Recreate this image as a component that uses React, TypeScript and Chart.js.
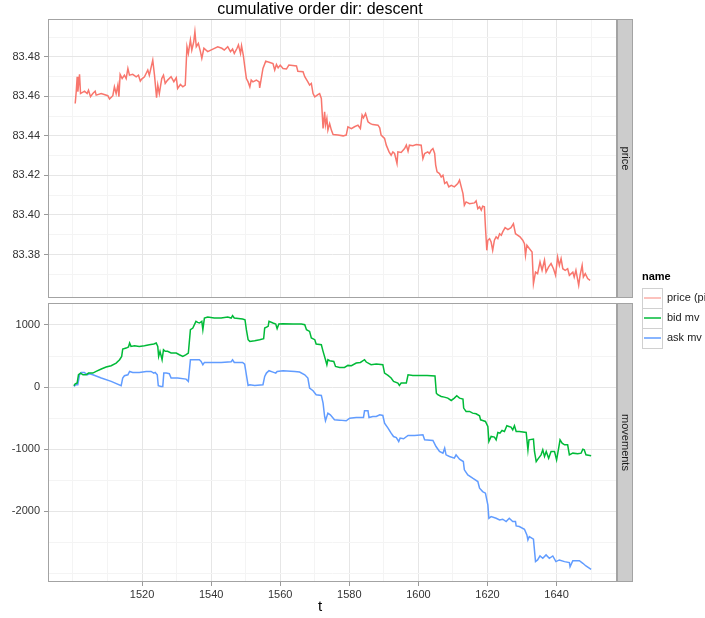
import React, { useEffect, useRef } from 'react';
import { Chart, registerables } from 'chart.js';
Chart.register(...registerables);

// ---------- data ----------
const priceT = [1500.65,1500.94,1501.22,1501.42,1501.9,1502.19,1503.35,1504.1,1504.5,1505.08,1505.75,1506.43,1506.72,1508.17,1510.1,1510.58,1511.54,1512.0,1512.5,1513.0,1513.3,1513.66,1514.24,1514.9,1515.4,1515.9,1516.36,1517.3,1518.3,1518.96,1519.5,1519.9,1520.7,1521.66,1522.1,1523.1,1523.6,1524.2,1524.55,1525.0,1525.7,1526.2,1526.7,1527.4,1528.4,1529.2,1529.9,1530.3,1531.1,1531.8,1532.5,1533.0,1533.4,1534.0,1534.4,1534.96,1535.3,1535.7,1536.3,1536.9,1537.3,1537.9,1539.0,1540.5,1541.9,1543.1,1543.8,1544.8,1545.6,1546.2,1546.7,1547.5,1547.9,1548.5,1548.8,1549.3,1549.8,1550.2,1550.7,1551.2,1551.6,1552.1,1553.1,1553.9,1554.05,1554.5,1555.0,1555.8,1557.0,1557.9,1558.4,1558.9,1559.4,1560.0,1560.8,1561.8,1562.5,1564.7,1565.1,1566.6,1567.1,1568.0,1568.5,1569.0,1569.5,1570.0,1570.9,1571.4,1571.9,1572.4,1572.85,1573.1,1573.5,1573.8,1574.3,1574.8,1575.3,1576.7,1578.2,1579.1,1579.6,1580.6,1581.5,1582.5,1583.2,1583.7,1584.1,1584.7,1585.4,1586.1,1586.8,1588.3,1588.8,1589.2,1590.2,1590.7,1591.5,1592.1,1592.6,1593.1,1593.8,1594.06,1595.0,1596.0,1596.5,1597.0,1597.4,1598.4,1599.4,1600.8,1601.3,1601.8,1602.7,1603.2,1603.7,1604.2,1604.7,1605.0,1605.4,1606.1,1606.6,1607.1,1607.6,1608.2,1608.8,1609.5,1610.4,1611.4,1611.9,1612.4,1612.9,1613.3,1613.8,1614.8,1616.2,1616.7,1617.2,1617.7,1618.2,1618.6,1619.1,1619.4,1619.8,1620.1,1620.6,1621.05,1621.5,1622.0,1622.5,1623.0,1623.5,1624.0,1624.4,1625.1,1625.9,1626.8,1627.5,1628.1,1628.8,1629.4,1630.2,1630.7,1631.0,1631.4,1632.1,1632.9,1633.3,1633.9,1634.5,1635.2,1635.8,1636.5,1636.95,1637.7,1638.4,1639.1,1639.7,1640.3,1640.8,1641.3,1641.8,1642.5,1643.2,1643.7,1644.7,1645.1,1645.6,1646.4,1646.8,1647.4,1647.75,1648.3,1649.0,1649.7];
const priceV = [83.4564,83.4623,83.4699,83.4623,83.4711,83.4614,83.4626,83.4614,83.4631,83.4598,83.4614,83.4626,83.4606,83.4614,83.4603,83.4586,83.4603,83.4648,83.4614,83.4657,83.4598,83.4711,83.4690,83.4707,83.4690,83.4741,83.4707,83.4711,83.4699,83.4707,83.4677,83.4687,83.4699,83.4733,83.4707,83.4783,83.4707,83.4593,83.4657,83.4614,83.4690,83.4707,83.4665,83.4682,83.4699,83.4674,83.4694,83.4640,83.4660,83.4648,83.4657,83.4851,83.4817,83.4885,83.4834,83.4876,83.4927,83.4851,83.4868,83.4826,83.4792,83.4843,83.4826,83.4839,83.4851,83.4843,83.4834,83.4851,83.4826,83.4839,83.4817,83.4843,83.4860,83.4817,83.4856,83.4809,83.4741,83.4690,83.4673,83.4648,83.4682,83.4673,83.4682,83.4673,83.4643,83.4690,83.4741,83.4778,83.4771,83.4766,83.4733,83.4761,83.4744,83.4758,83.4741,83.4738,83.4758,83.4754,83.4727,83.4724,83.4699,83.4673,83.4657,83.4665,83.4614,83.4597,83.4609,83.4614,83.4589,83.4437,83.4522,83.4454,83.4488,83.4429,83.4462,83.4429,83.4407,83.4404,83.4400,83.4404,83.4446,83.4437,83.4446,83.4454,83.4437,83.4505,83.4491,83.4513,83.4471,83.4462,83.4457,83.4454,83.4441,83.4404,83.4387,83.4353,83.4319,83.4302,83.4319,83.4311,83.4260,83.4319,83.4316,83.4336,83.4353,83.4322,83.4353,83.4350,83.4356,83.4353,83.4285,83.4311,83.4319,83.4311,83.4328,83.4336,83.4311,83.4252,83.4218,83.4209,83.4192,83.4201,83.4159,83.4167,83.4142,83.4150,83.4142,83.4159,83.4176,83.4142,83.4108,83.4049,83.4066,83.4057,83.4061,83.4071,83.4032,83.4041,83.4024,83.4044,83.4041,83.3939,83.3821,83.3872,83.3880,83.3863,83.3821,83.3872,83.3889,83.3880,83.3905,83.3897,83.3914,83.3936,83.3926,83.3936,83.3956,83.3905,83.3897,83.3889,83.3872,83.3855,83.3796,83.3847,83.3830,83.3813,83.3652,83.3711,83.3703,83.3762,83.3720,83.3771,83.3711,83.3737,83.3754,83.3728,83.3695,83.3787,83.3745,83.3779,83.3728,83.3720,83.3728,83.3695,83.3711,83.3686,83.3720,83.3644,83.3695,83.3745,83.3686,83.3703,83.3678,83.3669];

const bidT = [1500.26,1500.65,1501.2,1501.6,1502.2,1502.9,1503.8,1504.5,1505.75,1506.7,1508.2,1509.6,1511.06,1512.5,1513.5,1514.1,1514.4,1515.4,1516.07,1516.4,1516.8,1517.8,1519.2,1520.7,1522.1,1523.4,1524.1,1524.55,1524.8,1525.2,1525.8,1526.2,1526.7,1527.4,1528.4,1529.9,1530.8,1531.8,1532.75,1533.4,1534.0,1534.7,1535.6,1536.1,1536.6,1537.3,1537.6,1538.05,1539.0,1540.9,1542.9,1544.8,1545.8,1546.2,1546.7,1549.1,1549.8,1550.2,1550.7,1551.2,1552.6,1554.05,1555.2,1555.5,1556.5,1556.75,1557.9,1558.7,1559.1,1559.6,1560.8,1563.7,1566.1,1567.1,1567.6,1568.5,1569.0,1570.0,1570.4,1571.9,1572.4,1573.1,1573.5,1573.8,1574.3,1575.5,1576.0,1577.2,1578.6,1579.6,1580.6,1582.0,1583.2,1584.4,1584.9,1586.3,1587.8,1589.7,1590.2,1591.2,1592.1,1592.8,1594.06,1594.5,1595.0,1596.5,1597.0,1598.4,1600.3,1602.5,1604.8,1605.2,1605.6,1606.6,1607.5,1608.5,1609.5,1610.4,1611.1,1611.9,1612.9,1613.1,1613.8,1614.8,1615.7,1616.7,1617.7,1618.0,1618.6,1619.4,1620.1,1620.4,1621.05,1622.0,1622.5,1623.0,1623.6,1624.2,1624.9,1625.6,1626.2,1626.8,1627.3,1627.8,1628.3,1629.2,1631.2,1631.7,1632.0,1633.3,1633.6,1634.1,1634.8,1635.5,1636.0,1636.5,1637.0,1637.7,1638.4,1639.4,1640.0,1640.6,1641.0,1641.6,1642.3,1643.2,1643.7,1644.7,1646.1,1647.1,1647.6,1648.0,1648.5,1650.0];
const bidV = [21,53,64,198,225,198,198,225,225,252,290,322,344,386,440,494,612,628,645,709,655,666,655,666,682,693,709,655,494,575,440,601,575,575,548,548,521,494,521,548,924,951,1059,1042,1032,1059,924,1112,1128,1112,1112,1128,1112,1150,1112,1096,1085,924,763,736,747,763,779,951,978,1059,1032,1016,940,1016,1021,1016,1016,1005,924,897,790,763,693,682,575,440,360,440,424,413,333,317,317,349,344,387,397,440,403,360,370,360,225,188,145,91,64,26,64,64,198,188,188,185,178,-100,-124,-151,-162,-178,-216,-178,-140,-178,-194,-339,-393,-393,-420,-431,-463,-528,-538,-554,-635,-877,-796,-807,-850,-732,-743,-700,-716,-624,-635,-646,-689,-624,-716,-716,-732,-1012,-850,-839,-1038,-1200,-1146,-1092,-1012,-1119,-1038,-1146,-1038,-1038,-1173,-985,-850,-904,-931,-931,-1092,-1065,-1076,-1065,-1001,-1012,-1092,-1108];

const askT = [1500.26,1500.9,1501.4,1501.9,1502.4,1503.3,1504.1,1504.8,1505.75,1508.2,1511.06,1513.95,1514.4,1514.9,1515.9,1516.4,1517.3,1519.2,1521.2,1522.6,1523.4,1523.8,1524.4,1524.7,1525.5,1526.0,1526.3,1527.0,1527.9,1528.4,1530.3,1532.75,1533.4,1534.0,1534.7,1536.6,1537.1,1537.6,1538.05,1540.0,1542.9,1545.8,1546.2,1546.7,1549.1,1549.7,1550.2,1550.7,1551.2,1552.6,1555.0,1555.5,1556.0,1556.75,1557.9,1558.7,1559.1,1560.8,1564.2,1565.6,1567.1,1568.0,1568.5,1569.5,1570.4,1571.9,1572.4,1572.85,1573.1,1573.8,1574.5,1575.7,1577.2,1579.1,1580.1,1582.0,1584.1,1584.4,1585.4,1585.7,1586.8,1587.8,1588.8,1589.7,1590.2,1591.2,1592.1,1592.8,1593.6,1594.3,1594.7,1595.7,1597.0,1598.9,1601.3,1601.8,1604.2,1605.1,1606.1,1607.1,1607.6,1608.0,1609.0,1610.4,1610.9,1611.9,1613.0,1613.3,1614.3,1615.7,1617.2,1617.7,1618.6,1619.4,1620.1,1620.4,1621.05,1622.5,1623.5,1624.4,1625.4,1626.3,1627.3,1628.1,1628.3,1629.2,1630.7,1631.4,1631.7,1632.1,1633.3,1633.9,1634.5,1635.2,1636.0,1636.95,1637.9,1638.9,1639.8,1640.8,1642.3,1643.7,1643.9,1644.7,1646.6,1647.6,1648.5,1650.0];
const askV = [10,37,37,198,236,236,198,214,198,145,91,21,145,182,198,252,236,236,252,252,225,236,198,21,10,10,225,225,214,145,145,128,91,440,440,440,413,359,397,397,397,408,440,397,397,370,198,26,37,26,37,171,225,263,241,225,252,263,252,241,198,145,-17,-60,-124,-135,-259,-474,-544,-420,-447,-528,-533,-544,-501,-490,-490,-383,-383,-490,-474,-474,-447,-458,-581,-662,-743,-797,-813,-877,-823,-834,-780,-780,-770,-850,-861,-958,-1038,-1065,-985,-1092,-1119,-1146,-1092,-1162,-1200,-1334,-1415,-1469,-1522,-1630,-1684,-1710,-1899,-2114,-2087,-2114,-2141,-2130,-2168,-2114,-2168,-2168,-2237,-2248,-2291,-2382,-2463,-2409,-2452,-2813,-2786,-2722,-2759,-2705,-2759,-2722,-2813,-2786,-2813,-2829,-2894,-2797,-2797,-2840,-2883,-2937];

const xGrid = [1500,1510,1520,1530,1540,1550,1560,1570,1580,1590,1600,1610,1620,1630,1640,1650];
const xTickLabels = ['1520','1540','1560','1580','1600','1620','1640'];
const priceGrid = [83.37,83.38,83.39,83.40,83.41,83.42,83.43,83.44,83.45,83.46,83.47,83.48,83.49];
const priceTickLabels = ['83.38','83.40','83.42','83.44','83.46','83.48'];
const mvGrid = [-3000,-2500,-2000,-1500,-1000,-500,0,500,1000];
const mvTickLabels = ['-2000','-1000','0','1000'];

const seriesNames = ['price (pips)', 'bid mv', 'ask mv'];
const seriesColors = ['#F8766D', '#00BA38', '#619CFF'];
const titleText = 'cumulative order dir: descent';
const stripLabels = ['price', 'movements'];
const xAxisTitle = 't';
const legendTitle = 'name';

// ---------- helpers ----------
const FONT = "'Liberation Sans', Arial, Helvetica, sans-serif";
const MAJOR = '#e6e6e6';
const MINOR = '#f4f4f4';
const BORDER = '#a3a3a3';

const pts = (t: number[], v: number[]) => t.map((x, i) => ({ x, y: v[i] }));
const expand = (arrs: number[][]) => {
  const all = arrs.flat();
  const mn = Math.min(...all), mx = Math.max(...all);
  const d = (mx - mn) * 0.05;
  return [mn - d, mx + d];
};
const findLabel = (v: number, labels: string[]) => {
  const l = labels.find((s) => Math.abs(parseFloat(s) - v) < 1e-6);
  return l === undefined ? '' : l;
};

const [xMin, xMax] = expand([priceT, bidT, askT]);
const [pMin, pMax] = expand([priceV]);
const [mMin, mMax] = expand([bidV, askV]);

function xScale(showLabels: boolean) {
  return {
    type: 'linear',
    min: xMin,
    max: xMax,
    bounds: 'data',
    afterBuildTicks: (s: any) => { s.ticks = xGrid.map((value) => ({ value })); },
    afterFit: (s: any) => { s.height = showLabels ? 36 : 0; },
    ticks: {
      display: showLabels,
      autoSkip: false,
      maxRotation: 0,
      padding: 2,
      color: '#333',
      font: { family: FONT, size: 11 },
      callback: (v: number) => findLabel(v, xTickLabels),
    },
    grid: {
      color: (c: any) => (findLabel(c.tick.value, xTickLabels) ? MAJOR : MINOR),
      lineWidth: 1,
      drawTicks: showLabels,
      tickLength: 4,
      tickColor: (c: any) => (findLabel(c.tick.value, xTickLabels) ? '#999' : 'rgba(0,0,0,0)'),
    },
    border: { display: false },
  };
}

function yScale(min: number, max: number, grid: number[], labels: string[]) {
  return {
    type: 'linear',
    min,
    max,
    bounds: 'data',
    afterBuildTicks: (s: any) => { s.ticks = grid.map((value) => ({ value })); },
    afterFit: (s: any) => { s.width = 48; },
    ticks: {
      autoSkip: false,
      padding: 4,
      color: '#333',
      font: { family: FONT, size: 11 },
      callback: (v: number) => findLabel(v, labels),
    },
    grid: {
      color: (c: any) => (findLabel(c.tick.value, labels) ? MAJOR : MINOR),
      lineWidth: 1,
      drawTicks: true,
      tickLength: 4,
      tickColor: (c: any) => (findLabel(c.tick.value, labels) ? '#999' : 'rgba(0,0,0,0)'),
    },
    border: { display: false },
  };
}

function facetPlugin(strip: string, top: boolean) {
  return {
    id: 'facet-' + strip,
    afterDraw(chart: any) {
      const { ctx } = chart;
      const { left, right, top: t, bottom } = chart.chartArea;
      ctx.save();
      // panel border
      ctx.strokeStyle = BORDER;
      ctx.lineWidth = 1;
      ctx.strokeRect(left + 0.5, t + 0.5, right - left - 1, bottom - t - 1);
      // strip
      const sw = 16;
      ctx.fillStyle = '#cccccc';
      ctx.fillRect(right, t, sw, bottom - t);
      ctx.strokeRect(right + 0.5, t + 0.5, sw - 1, bottom - t - 1);
      ctx.save();
      ctx.translate(right + sw / 2 + 0.5, (t + bottom) / 2);
      ctx.rotate(Math.PI / 2);
      ctx.fillStyle = '#1a1a1a';
      ctx.font = `11px ${FONT}`;
      ctx.textAlign = 'center';
      ctx.textBaseline = 'middle';
      ctx.fillText(strip, 0, 0);
      ctx.restore();

      if (top) {
        // title
        ctx.fillStyle = '#000';
        ctx.font = `16px ${FONT}`;
        ctx.textAlign = 'center';
        ctx.textBaseline = 'middle';
        ctx.fillText(titleText, 320, 10);
        // legend
        ctx.textAlign = 'left';
        ctx.font = `bold 11px ${FONT}`;
        ctx.fillText(legendTitle, 642, 277);
        ctx.font = `11px ${FONT}`;
        seriesNames.forEach((name, i) => {
          const ky = 288 + i * 20;
          ctx.fillStyle = '#ffffff';
          ctx.fillRect(642, ky, 20, 20);
          ctx.strokeStyle = '#d0d0d0';
          ctx.strokeRect(642.5, ky + 0.5, 20, 20);
          ctx.strokeStyle = i === 0 ? 'rgba(248,118,109,0.6)' : seriesColors[i];
          ctx.lineWidth = 1.5;
          ctx.beginPath();
          ctx.moveTo(644, ky + 10);
          ctx.lineTo(661, ky + 10);
          ctx.stroke();
          ctx.lineWidth = 1;
          ctx.fillStyle = '#1a1a1a';
          ctx.fillText(name, 667, ky + 10);
        });
      } else {
        ctx.fillStyle = '#000';
        ctx.font = `15px ${FONT}`;
        ctx.textAlign = 'center';
        ctx.textBaseline = 'middle';
        ctx.fillText(xAxisTitle, 320, 607);
      }
      ctx.restore();
    },
  };
}

const lineDs = (label: string, data: any[], color: string) => ({
  label,
  data,
  borderColor: color,
  backgroundColor: color,
  borderWidth: 1.5,
  pointRadius: 0,
  tension: 0,
  fill: false,
});

export default function App() {
  const refA = useRef<HTMLCanvasElement>(null);
  const refB = useRef<HTMLCanvasElement>(null);

  useEffect(() => {
    const common = {
      responsive: false,
      animation: false,
      events: [],
      plugins: { legend: { display: false }, title: { display: false }, tooltip: { enabled: false } },
    };
    const a = new Chart(refA.current as HTMLCanvasElement, {
      type: 'line',
      data: { datasets: [lineDs(seriesNames[0], pts(priceT, priceV), seriesColors[0])] },
      options: {
        ...common,
        layout: { padding: { left: 0, top: 19, right: 88, bottom: 320 } },
        scales: { x: xScale(false), y: yScale(pMin, pMax, priceGrid, priceTickLabels) },
      } as any,
      plugins: [facetPlugin(stripLabels[0], true)],
    });
    const b = new Chart(refB.current as HTMLCanvasElement, {
      type: 'line',
      data: {
        datasets: [
          lineDs(seriesNames[1], pts(bidT, bidV), seriesColors[1]),
          lineDs(seriesNames[2], pts(askT, askV), seriesColors[2]),
        ],
      },
      options: {
        ...common,
        layout: { padding: { left: 0, top: 303, right: 88, bottom: 0 } },
        scales: { x: xScale(true), y: yScale(mMin, mMax, mvGrid, mvTickLabels) },
      } as any,
      plugins: [facetPlugin(stripLabels[1], false)],
    });
    return () => { a.destroy(); b.destroy(); };
  }, []);

  return (
    <div style={{ position: 'absolute', left: 0, top: 0, width: 705, height: 618, background: '#ffffff', overflow: 'hidden' }}>
      <canvas ref={refA} width={705} height={618} style={{ position: 'absolute', left: 0, top: 0 }} />
      <canvas ref={refB} width={705} height={618} style={{ position: 'absolute', left: 0, top: 0 }} />
    </div>
  );
}
